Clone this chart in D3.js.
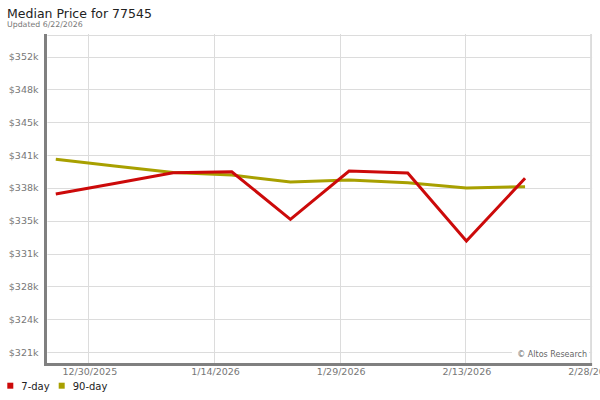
<!DOCTYPE html>
<html>
<head>
<meta charset="utf-8">
<script src="https://cdn.jsdelivr.net/npm/d3@7"></script>
<style>
  html, body { margin: 0; padding: 0; background: #fff; }
  svg { display: block; font-family: "DejaVu Sans", sans-serif; }
</style>
</head>
<body>
<svg id="chart" width="600" height="400"></svg>
<script>
// ---- data ----
const title = "Median Price for 77545";
const subtitle = "Updated 6/22/2026";
const dates = ["2025-12-26","2026-01-02","2026-01-09","2026-01-16","2026-01-23","2026-01-30","2026-02-06","2026-02-13","2026-02-20"];
const sevenDay = [337360, 338460, 339570, 339670, 334740, 339740, 339540, 332490, 338990];
const ninetyDay = [340950, 340260, 339590, 339330, 338600, 338810, 338530, 337980, 338120];
const yTickValues = [321000, 324400, 327800, 331200, 334600, 338000, 341400, 344800, 348200, 351600];
const yTickLabels = ["$321k","$324k","$328k","$331k","$335k","$338k","$341k","$345k","$348k","$352k"];
const xTickDates = ["2025-12-30","2026-01-14","2026-01-29","2026-02-13","2026-02-28"];
const xTickLabels = ["12/30/2025","1/14/2026","1/29/2026","2/13/2026","2/28/2026"];
const xDomain = ["2025-12-25","2026-02-28"];
const yDomain = [319760, 353930];
const seriesNames = ["7-day","90-day"];
const seriesColors = ["#cc0a0a","#a8a000"];

// ---- layout ----
const svg = d3.select("#chart");
const parse = d3.utcParse("%Y-%m-%d");
const L = 47.4, R = 592.1, T = 34, B = 364;
const x = d3.scaleUtc().domain(xDomain.map(parse)).range([L, R]);
const y = d3.scaleLinear().domain(yDomain).range([B, T]);

// title
svg.append("text").attr("x", 7).attr("y", 18.3)
  .attr("font-size", 12.5).attr("fill", "#222").text(title);
svg.append("text").attr("x", 7).attr("y", 26.8)
  .attr("font-size", 7.8).attr("fill", "#777").text(subtitle);

// grid
const grid = svg.append("g");
grid.append("g").selectAll("line").data(yTickValues).join("line")
  .attr("x1", L).attr("x2", R)
  .attr("y1", d => Math.round(y(d)) + 0.5).attr("y2", d => Math.round(y(d)) + 0.5)
  .attr("stroke", "#dcdcdc").attr("stroke-width", 1);
grid.append("g").selectAll("line").data(xTickDates.map(parse)).join("line")
  .attr("x1", d => Math.round(x(d)) - 0.5).attr("x2", d => Math.round(x(d)) - 0.5)
  .attr("y1", T).attr("y2", B)
  .attr("stroke", "#dcdcdc").attr("stroke-width", 1);
// top border
svg.append("line").attr("x1", L).attr("x2", R).attr("y1", T + 1.5).attr("y2", T + 1.5)
  .attr("stroke", "#dcdcdc");

// watermark
const wm = svg.append("g");
wm.append("rect").attr("x", 512).attr("y", 347).attr("width", 77).attr("height", 12).attr("fill", "#fff");
wm.append("text").attr("x", 587).attr("y", 356.8).attr("text-anchor", "end")
  .attr("font-size", 8).attr("fill", "#666").text("\u00A9 Altos Research");

// y axis labels
const yAxis = d3.axisLeft(y).tickValues(yTickValues)
  .tickFormat((d, i) => yTickLabels[i]).tickSize(0).tickPadding(0);
const yg = svg.append("g").attr("transform", `translate(${38.5},0)`).call(yAxis);
yg.select(".domain").remove();
yg.selectAll("text").attr("font-size", 9.5).attr("fill", "#777")
  .attr("font-family", "DejaVu Sans, sans-serif");

// x axis labels
const xAxis = d3.axisBottom(x).tickValues(xTickDates.map(parse))
  .tickFormat((d, i) => xTickLabels[i]).tickSize(0).tickPadding(0);
const xg = svg.append("g").attr("transform", `translate(0,${368})`).call(xAxis);
xg.select(".domain").remove();
xg.selectAll("text").attr("font-size", 9.5).attr("fill", "#777")
  .attr("font-family", "DejaVu Sans, sans-serif");

// frame: thick left and bottom bars, thin right border
svg.append("line").attr("x1", R - 1.5).attr("x2", R - 1.5).attr("y1", T).attr("y2", B)
  .attr("stroke", "#dcdcdc");
svg.append("rect").attr("x", 44).attr("y", T).attr("width", 3).attr("height", B - T + 2).attr("fill", "#808080");
svg.append("rect").attr("x", 44).attr("y", B - 1).attr("width", R - 44).attr("height", 3).attr("fill", "#808080");

// lines
const pd = dates.map(parse);
const line = d3.line().x(d => x(d[0])).y(d => y(d[1]));
[ninetyDay, sevenDay].forEach((vals, k) => {
  const idx = k === 0 ? 1 : 0;
  svg.append("path").datum(pd.map((d, i) => [d, vals[i]]))
    .attr("d", line).attr("fill", "none")
    .attr("stroke", seriesColors[idx]).attr("stroke-width", 3)
    .attr("stroke-linejoin", "miter").attr("stroke-linecap", "butt");
});

// legend
const lg = svg.append("g");
const legX = [7.3, 58.7];
seriesNames.forEach((n, i) => {
  lg.append("rect").attr("x", legX[i]).attr("y", 382.7).attr("width", 6).attr("height", 6).attr("fill", seriesColors[i]);
  lg.append("text").attr("x", legX[i] + 14).attr("y", 389.5).attr("font-size", 10).attr("fill", "#222").text(n);
});
</script>
</body>
</html>
